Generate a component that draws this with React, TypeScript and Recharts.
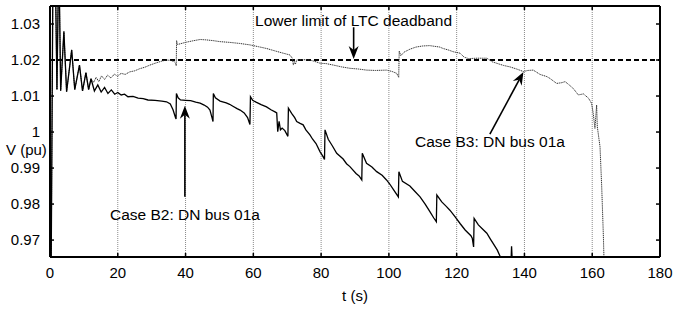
import React from 'react';
import { LineChart, Line, XAxis, YAxis, CartesianGrid, ReferenceLine, ReferenceDot } from 'recharts';

const xTicks = [0, 20, 40, 60, 80, 100, 120, 140, 160, 180];
const yTicks = [0.97, 0.98, 0.99, 1.0, 1.01, 1.02, 1.03];
const deadband = 1.02;

const startTime = [0, 0.3, 0.9, 1.5, 2.05, 2.6, 3.15, 4.1, 4.9, 6.4, 7.3, 8.7, 9.6, 10.6, 11.4, 12.1];
const startVolt = [1.0, 0.955, 1.05, 1.05, 1.0118, 1.05, 1.0115, 1.0279, 1.0112, 1.0228, 1.0118, 1.0186, 1.0114, 1.0165, 1.0118, 1.0148];

const b2Time = [
  13.1, 14.1, 15.1, 16.1, 17.1, 18.1, 19.1, 20.0, 21.0, 22.0, 23.0, 24.5, 26.0, 27.5, 28.9, 31, 33, 34.4, 35.5, 36.3, 37.0, 37.2,
  37.3, 37.8, 38.5, 40.0, 41.5, 43.0, 44.3, 45.5, 46.5, 47.2, 47.8, 48.1,
  48.2, 48.8, 50.2, 52.0, 53.0, 54.1, 55.2, 56.1, 57.3, 58.3, 59.0,
  59.15, 59.8, 60.8, 62.3, 63.9, 65.2, 66.4, 66.9, 67.2, 67.6, 68.0, 68.5, 69.3, 70.2,
  70.35, 71.3, 72.2, 72.8, 73.8, 74.7, 75.5, 76.7, 77.5, 78.5, 79.7, 80.5, 81.0,
  81.15, 82.1, 83.3, 84.6, 86.5, 87.5, 88.5, 90.3, 91.2, 92.0,
  92.15, 93.4, 95.0, 96.4, 98.0, 99.3, 100.3, 101.5, 102.8,
  102.95, 104.0, 106.2, 107.7, 109.2, 110.7, 112.1, 113.2, 114.0,
  114.15, 115.6, 117.0, 118.0, 119.5, 121.0, 122.5, 124.2, 124.6, 125.0,
  125.15, 126.4, 127.7, 128.9, 130.0, 130.8, 132.0, 132.8, 133.5, 135.9, 136.2, 136.6,
];
const b2Volt = [
  1.0114, 1.0131, 1.0111, 1.0124, 1.0107, 1.0117, 1.0105, 1.011, 1.0103, 1.0105, 1.0098, 1.0099, 1.0094, 1.0093, 1.0089, 1.0088, 1.0086, 1.0084, 1.0078, 1.0062, 1.0041, 1.0036,
  1.0107, 1.0095, 1.0089, 1.0088, 1.0087, 1.0083, 1.008, 1.0075, 1.0069, 1.0061, 1.004, 1.0029,
  1.0107, 1.0095, 1.0086, 1.0081, 1.0077, 1.0071, 1.0065, 1.0061, 1.0053, 1.004, 1.0021,
  1.0098, 1.0088, 1.0083, 1.0076, 1.007, 1.0062, 1.0056, 1.0053, 1.0001, 1.003, 1.0006, 1.0011, 1.0004, 0.9988,
  1.0066, 1.0052, 1.004, 1.0029, 1.0024, 1.002, 1.0006, 0.9992, 0.998, 0.9968, 0.9945, 0.9933, 0.9924,
  1.0006, 0.998, 0.9962, 0.9941, 0.9925, 0.9912, 0.9904, 0.9885, 0.9878, 0.9867,
  0.9941, 0.9913, 0.9903, 0.989, 0.988, 0.9867, 0.9855, 0.9838, 0.982,
  0.989, 0.9863, 0.985, 0.9835, 0.982, 0.98, 0.9779, 0.9762, 0.9751,
  0.9825, 0.9806, 0.9793, 0.9783, 0.9765, 0.9746, 0.9728, 0.9712, 0.9705, 0.9681,
  0.976, 0.9742, 0.973, 0.9719, 0.9702, 0.969, 0.9672, 0.9655, 0.963, 0.96, 0.9683, 0.96,
];

const b3Time = [
  12.9, 13.6, 14.4, 15.2, 16.1, 17.0, 18.0, 19.0, 19.9, 21.0, 22.2, 23.5, 25.0, 26.5, 28.0, 29.5, 31.0, 33.0, 34.4, 35.6, 36.6, 37.1, 37.25,
  37.35, 37.6, 38.4, 40.0, 42.0, 44.3, 46.0, 48.0, 50.2, 53.0, 56.0, 59.0, 61.5, 63.9, 66.5, 68.8, 70.8, 71.5, 71.8, 72.1, 72.4, 72.8,
  74.5, 76.7, 78.5, 79.7, 81.5, 83.6, 86.0, 88.5, 91.0, 93.4, 96.0, 99.3, 101.0, 102.3, 102.9,
  103.05, 103.5, 104.5, 106.2, 108.0, 110.0, 112.0, 113.5, 115.0, 116.0, 117.5, 119.0, 121.0, 122.2, 123.5, 126.0, 128.9,
  130.5, 131.8, 133.8, 135.7, 137.7, 139.7, 141.0, 142.6, 144.6, 146.6, 147.5, 149.5, 151.0, 152.0, 153.3, 154.4, 155.9,
  157.4, 158.9, 159.8, 160.3, 160.8, 161.3, 161.5, 162.3, 162.8, 163.3, 163.6,
];
const b3Volt = [
  1.0138, 1.0152, 1.014, 1.0156, 1.0146, 1.0158, 1.015, 1.0161, 1.0155, 1.0163, 1.016, 1.0167, 1.017, 1.0176, 1.018, 1.0186, 1.0191, 1.0197, 1.02, 1.0199, 1.0196, 1.019, 1.0184,
  1.0254, 1.0243, 1.0245, 1.0249, 1.0253, 1.0257, 1.0256, 1.0254, 1.0251, 1.0249, 1.0246, 1.0242, 1.0237, 1.0232, 1.0225, 1.0219, 1.0214, 1.0205, 1.0186, 1.0196, 1.0188, 1.02,
  1.0201, 1.02, 1.0195, 1.0191, 1.019, 1.0186, 1.0181, 1.0177, 1.0175, 1.0172, 1.0171, 1.0172, 1.0168, 1.0163, 1.0152,
  1.0225, 1.0212, 1.0222, 1.023, 1.0236, 1.0239, 1.024, 1.0238, 1.0236, 1.0232, 1.0228, 1.0223, 1.0219, 1.0208, 1.0204, 1.0205, 1.0205,
  1.0195, 1.0191, 1.0185, 1.0181, 1.0175, 1.0168, 1.0171, 1.0172, 1.016, 1.0154, 1.0149, 1.0135, 1.0137, 1.014, 1.013, 1.0121, 1.0103,
  1.0106, 1.0094, 1.008, 1.0052, 1.001, 1.0075, 1.0015, 0.9959, 0.9848, 0.9709, 0.96,
];

const noteTexts = ['Lower limit of LTC deadband', 'Case B2: DN bus 01a', 'Case B3: DN bus 01a'];
const noteT = [60.5, 17.7, 107.7];
const noteV = [1.0294, 0.9757, 0.9958];
const arrowTailT = [89.6, 39.8, 129.8];
const arrowTailV = [1.0291, 0.982, 0.9994];
const arrowTipT = [89.6, 39.8, 139.7];
const arrowTipV = [1.0203, 1.0073, 1.0167];

const toSeries = (ts: number[], vs: number[]) => ts.map((t, i) => ({ t, v: vs[i] }));
const b2Data = toSeries([...startTime, ...b2Time], [...startVolt, ...b2Volt]);
const b3Data = toSeries([...startTime, ...b3Time], [...startVolt, ...b3Volt]);

const FONT = '"Liberation Sans", Arial, Helvetica, sans-serif';

const ArrowShape = (p: any) => {
  const { x1, y1, x2, y2 } = p;
  const dx = x2 - x1;
  const dy = y2 - y1;
  const len = Math.hypot(dx, dy) || 1;
  const ux = dx / len;
  const uy = dy / len;
  const nx = -uy;
  const ny = ux;
  const L = 13;
  const W = 5;
  const notch = 4;
  const bx = x2 - ux * L;
  const by = y2 - uy * L;
  const mx = x2 - ux * (L - notch);
  const my = y2 - uy * (L - notch);
  const pts = [
    [x2, y2],
    [bx + nx * W, by + ny * W],
    [mx, my],
    [bx - nx * W, by - ny * W],
  ]
    .map((q) => q.join(','))
    .join(' ');
  return (
    <g>
      <line x1={x1} y1={y1} x2={mx} y2={my} stroke="#000" strokeWidth={1.6} />
      <polygon points={pts} fill="#000" />
    </g>
  );
};

const noTick = () => <g />;

export default function App() {
  return (
    <div style={{ position: 'absolute', left: 0, top: 0, fontFamily: FONT }}>
      <LineChart width={673} height={312} margin={{ top: 5, right: 12, bottom: 0, left: 0 }}>
        <CartesianGrid xAxisId="b" yAxisId="l" horizontal={false} stroke="#8a8a8a" strokeDasharray="1 1" />
        <XAxis
          xAxisId="b"
          type="number"
          dataKey="t"
          domain={[0, 180]}
          ticks={xTicks}
          interval={0}
          allowDataOverflow
          height={55}
          tickSize={-4}
          tickMargin={14}
          axisLine={{ stroke: '#000', strokeWidth: 2 }}
          tickLine={{ stroke: '#000', strokeWidth: 1.5 }}
          tick={{ fill: '#000', fontSize: 15, fontFamily: FONT }}
          label={{
            content: (p: any) => (
              <text x={p.viewBox.x + p.viewBox.width / 2} y={p.viewBox.y + 44} textAnchor="middle" fontSize={15} fill="#000" fontFamily={FONT}>
                t (s)
              </text>
            ),
          }}
        />
        <XAxis
          xAxisId="t"
          orientation="top"
          type="number"
          dataKey="t"
          domain={[0, 180]}
          ticks={xTicks}
          interval={0}
          allowDataOverflow
          height={1}
          tickSize={-4}
          axisLine={{ stroke: '#000', strokeWidth: 2 }}
          tickLine={{ stroke: '#000', strokeWidth: 1.5 }}
          tick={noTick}
        />
        <YAxis
          yAxisId="l"
          type="number"
          domain={[0.9653, 1.035]}
          ticks={yTicks}
          interval={0}
          allowDataOverflow
          width={50}
          tickSize={-4}
          tickMargin={14}
          tickFormatter={(v: number) => String(+v.toFixed(2))}
          axisLine={{ stroke: '#000', strokeWidth: 2 }}
          tickLine={{ stroke: '#000', strokeWidth: 1.5 }}
          tick={{ fill: '#000', fontSize: 15, fontFamily: FONT }}
          label={{
            content: (p: any) => (
              <text x={p.viewBox.x + 6} y={p.viewBox.y + 149} fontSize={15} fill="#000" fontFamily={FONT}>
                V (pu)
              </text>
            ),
          }}
        />
        <YAxis
          yAxisId="r"
          orientation="right"
          type="number"
          domain={[0.9653, 1.035]}
          ticks={yTicks}
          interval={0}
          allowDataOverflow
          width={1}
          tickSize={-4}
          axisLine={{ stroke: '#000', strokeWidth: 2 }}
          tickLine={{ stroke: '#000', strokeWidth: 1.5 }}
          tick={noTick}
        />
        <ReferenceLine xAxisId="b" yAxisId="l" y={deadband} stroke="#000" strokeWidth={2} strokeDasharray="5 3" />
        <Line
          xAxisId="b"
          yAxisId="l"
          data={b3Data}
          dataKey="v"
          type="linear"
          stroke="#333"
          strokeWidth={1}
          strokeDasharray="1.2 0.7"
          dot={false}
          activeDot={false}
          isAnimationActive={false}
        />
        <Line
          xAxisId="b"
          yAxisId="l"
          data={b2Data}
          dataKey="v"
          type="linear"
          stroke="#000"
          strokeWidth={1.3}
          dot={false}
          activeDot={false}
          isAnimationActive={false}
        />
        {arrowTailT.map((_, i) => (
          <ReferenceLine
            key={`a${i}`}
            xAxisId="b"
            yAxisId="l"
            segment={[
              { x: arrowTailT[i], y: arrowTailV[i] },
              { x: arrowTipT[i], y: arrowTipV[i] },
            ]}
            shape={ArrowShape}
          />
        ))}
        {noteTexts.map((txt, i) => (
          <ReferenceDot
            key={`n${i}`}
            xAxisId="b"
            yAxisId="l"
            x={noteT[i]}
            y={noteV[i]}
            r={0}
            shape={(p: any) => (
              <text x={p.cx} y={p.cy} fontSize={15.5} fill="#000" fontFamily={FONT}>
                {txt}
              </text>
            )}
          />
        ))}
      </LineChart>
    </div>
  );
}
